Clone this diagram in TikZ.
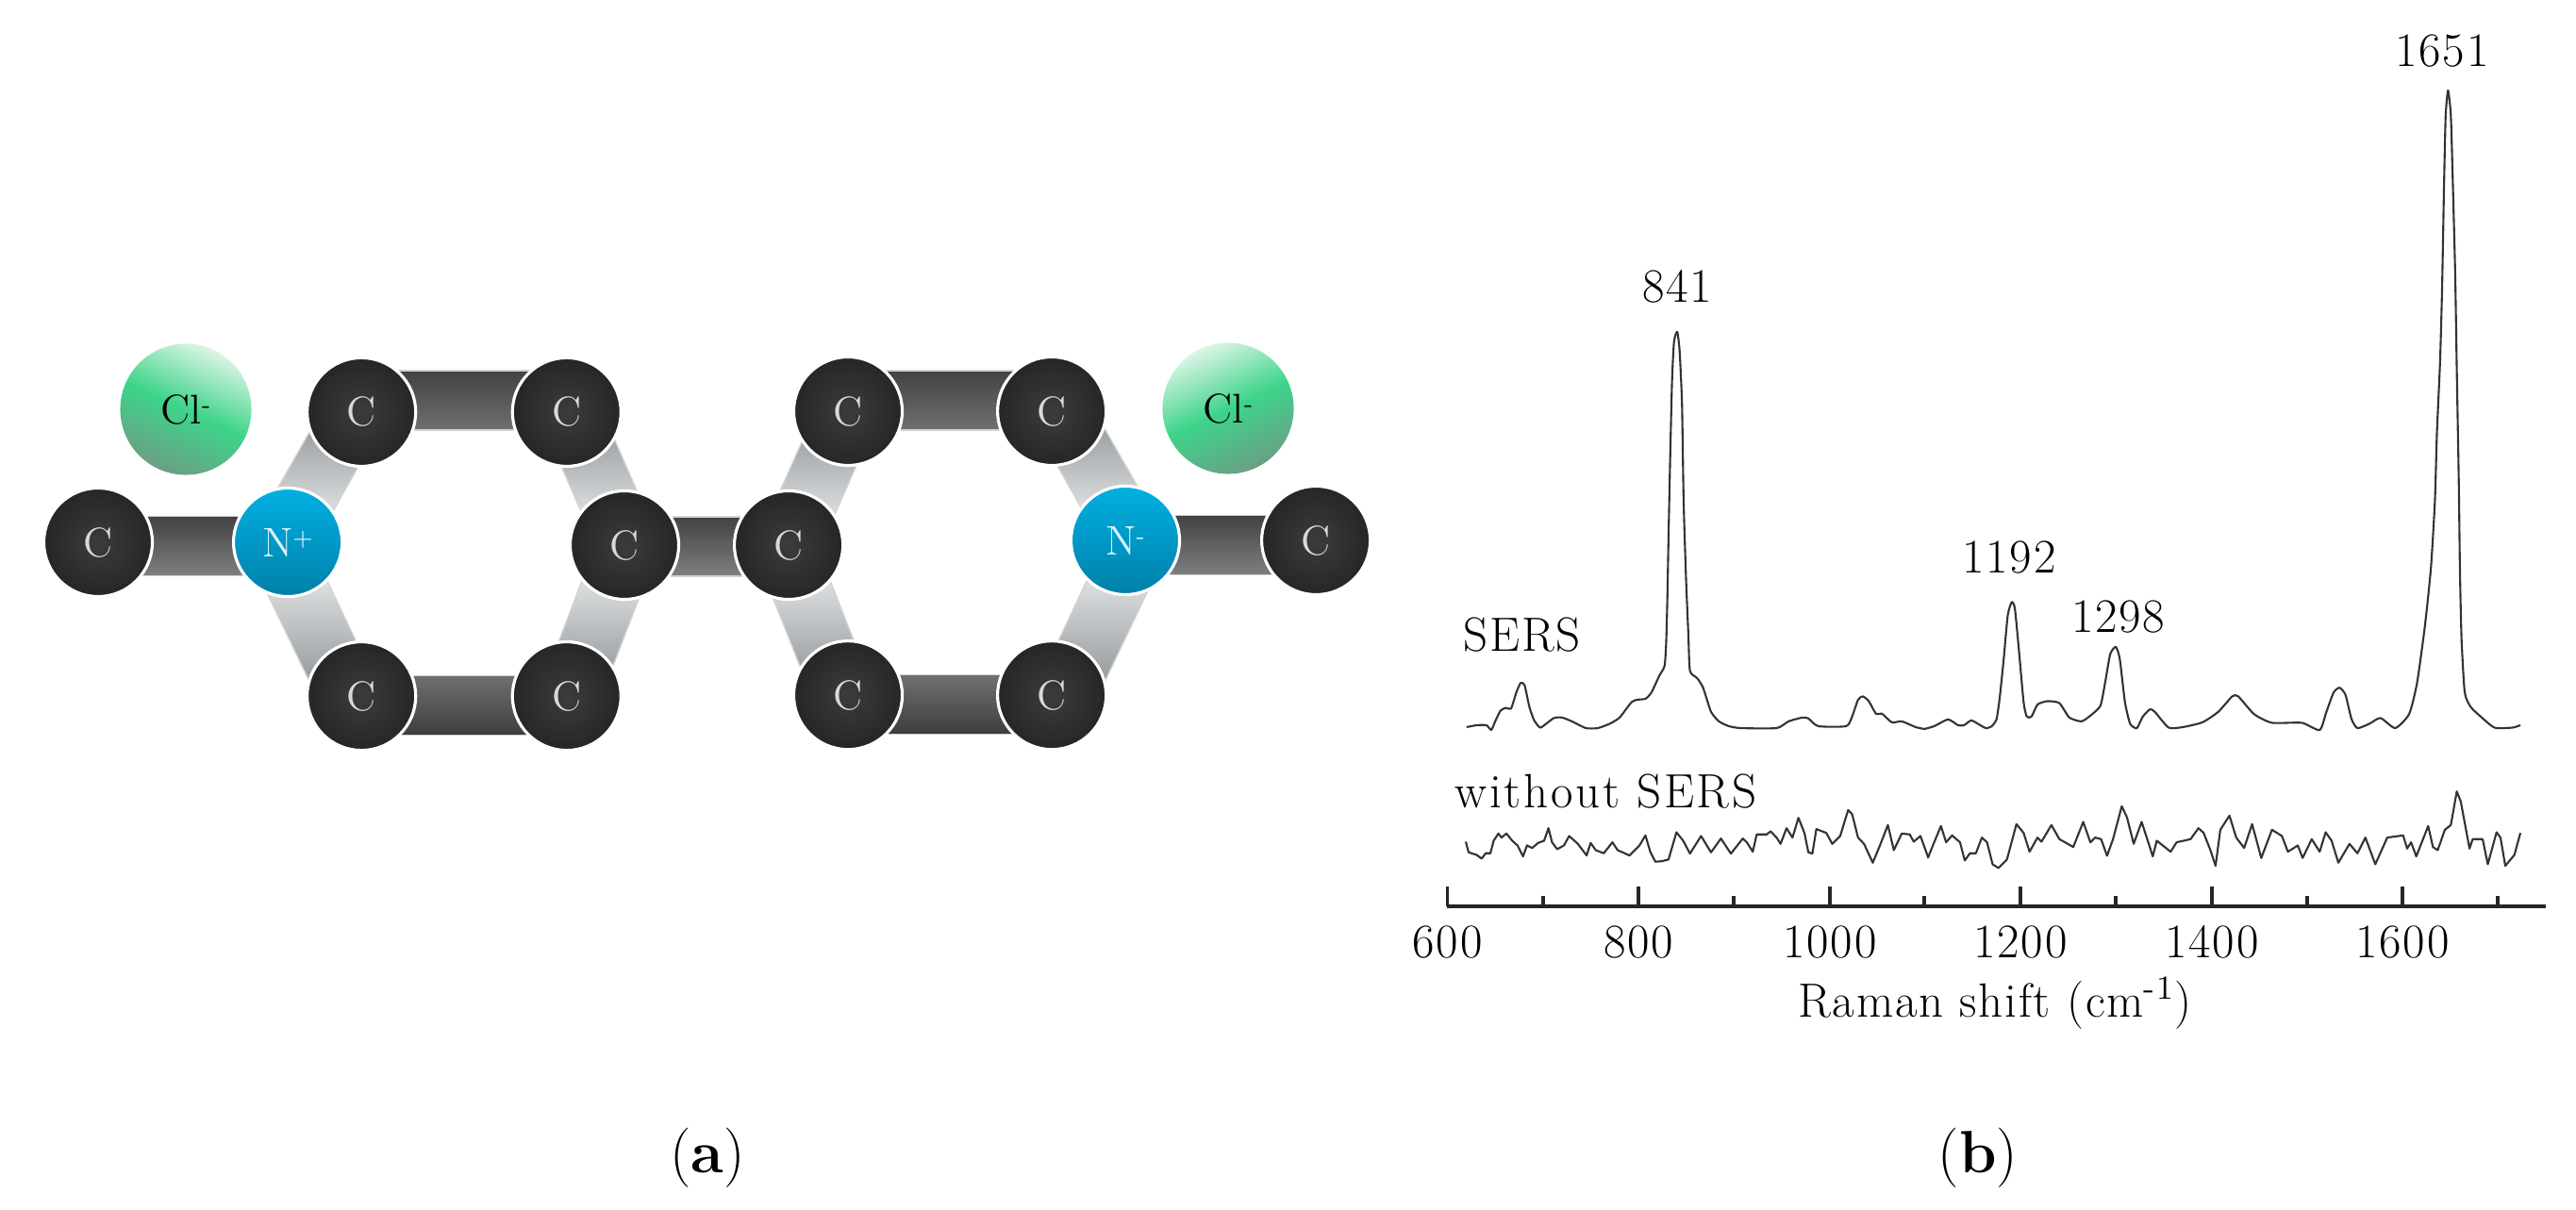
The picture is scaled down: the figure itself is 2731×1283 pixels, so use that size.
\documentclass[tikz,border=0pt]{standalone}
\usepackage{fontspec}
\setmainfont{Latin Modern Roman}
\usepackage{tikz}
\usetikzlibrary{positioning,calc,backgrounds}

\definecolor{atomdark}{HTML}{3C3C3C}
\definecolor{atomrim}{HTML}{262626}
\definecolor{traceink}{HTML}{333333}
\definecolor{ntop}{HTML}{00B0E2}
\definecolor{nbot}{HTML}{0080A8}
\definecolor{cltop}{HTML}{DDF5E6}
\definecolor{clmid}{HTML}{3ED48A}
\definecolor{clbot}{HTML}{6A9F84}
\definecolor{paleend}{HTML}{7E8589}

% one flat bond bar between two atoms, #4 moves it sideways
\newcommand{\bondbar}[4][]{
  \path[bond,#1] ($(#2.center)!#4+0.315cm!90:(#3.center)$) -- ($(#3.center)!#4+0.315cm!-90:(#2.center)$)
    -- ($(#3.center)!#4-0.315cm!-90:(#2.center)$) -- ($(#2.center)!#4-0.315cm!90:(#3.center)$) -- cycle;
}
\newcommand{\chargemark}[1]{\raisebox{0.6ex}{\fontsize{7}{8}\selectfont #1}}

\begin{document}
\begin{tikzpicture}[x=0.01cm,y=-0.01cm,on grid,auto]
\tikzset{
  bond/.style={draw=gray!35,line width=0.4pt},
  darkdown/.style={top color=black!74,bottom color=black!56},
  darkup/.style={top color=black!56,bottom color=black!76},
  darkside/.style={top color=black!74,bottom color=black!50},
  palefade/.style={top color=paleend,bottom color=white},
  palerise/.style={top color=white,bottom color=paleend},
  atom/.style={circle,draw=white,line width=0.9pt,minimum size=1.15cm,inner sep=0pt,
    font=\fontsize{12.5}{15}\selectfont},
  carbon/.style={atom,inner color=atomdark,outer color=atomrim,text=white!85!black},
  nitrogen/.style={atom,top color=ntop,bottom color=nbot,text=white!85!cyan},
  chloride/.style={circle,minimum size=1.39cm,inner sep=0pt,font=\fontsize{12.5}{15}\selectfont,
    shading=axis,top color=cltop,bottom color=clbot,middle color=clmid},
  tag/.style={font=\fontsize{14.5}{17}\selectfont\addfontfeature{LetterSpace=3.5},inner sep=0pt,anchor=base},
  panel/.style={font=\fontsize{18}{22}\selectfont,inner sep=0pt,anchor=base},
  trace/.style={draw=traceink,line width=0.6pt,line join=round},
  axisline/.style={draw=black!85,line width=1.15pt},
  tickline/.style={draw=black!85,line width=0.95pt}
}
\useasboundingbox (0,0) rectangle (2731,1283);

% left ring
\node[carbon] (c1) at (104,575) {C};
\node[nitrogen] (n1) [right=2.01cm of c1] {N\chargemark{+}};
\node[carbon] (tl1) [above right=1.38cm and 0.78cm of n1] {C};
\node[carbon] (tr1) [right=2.175cm of tl1] {C};
\node[carbon] (bl1) [below=3.01cm of tl1] {C};
\node[carbon] (br1) [right=2.175cm of bl1] {C};
\node[carbon] (m1) at (662,578) {C};
% right ring
\node[carbon] (m2) [right=1.74cm of m1] {C};
\node[carbon] (tl2) at (899,436) {C};
\node[carbon] (tr2) [right=2.16cm of tl2] {C};
\node[carbon] (bl2) [below=3.01cm of tl2] {C};
\node[carbon] (br2) [right=2.16cm of bl2] {C};
\node[nitrogen] (n2) at (1193,573) {N\chargemark{-}};
\node[carbon] (c2) [right=2.02cm of n2] {C};
\node[chloride,shading angle=-25] (cl1) at (197,434) {Cl\chargemark{-}};
\node[chloride,shading angle=25] (cl2) at (1302,433) {Cl\chargemark{-}};

\begin{scope}[on background layer]
  \bondbar[darkdown]{tl1}{tr1}{0.125cm}
  \bondbar[darkup]{bl1}{br1}{-0.10cm}
  \bondbar[darkside]{c1}{n1}{-0.04cm}
  \bondbar[darkside]{m1}{m2}{-0.015cm}
  \bondbar[darkdown]{tl2}{tr2}{0.115cm}
  \bondbar[darkup]{bl2}{br2}{-0.10cm}
  \bondbar[darkside]{n2}{c2}{-0.05cm}
  \bondbar[palefade]{n1}{tl1}{0.06cm}
  \bondbar[palerise]{n1}{bl1}{-0.115cm}
  \bondbar[palefade]{tr1}{m1}{0.035cm}
  \bondbar[palerise]{m1}{br1}{0.03cm}
  \bondbar[palefade]{m2}{tl2}{0cm}
  \bondbar[palerise]{m2}{bl2}{-0.045cm}
  \bondbar[palefade]{tr2}{n2}{0.08cm}
  \bondbar[palerise]{n2}{br2}{0.13cm}
\end{scope}

% SERS trace
\begin{scope}[shift={(1420,0)},x=0.0042088cm,y=-0.0051020cm]
  \draw[trace] plot[smooth,tension=0.35] coordinates {(320,1512) (345,1508) (370,1508) (382,1518) (392,1500) (405,1478) (418,1472) (432,1473) (445,1440) (456,1420) (466,1425) (478,1470) (490,1498) (505,1513) (520,1505) (540,1493) (560,1492) (585,1500) (620,1514) (650,1514) (680,1505) (705,1492) (735,1460) (750,1455) (770,1453) (785,1440) (805,1405) (818,1385) (822,1340) (825,1250) (828,1120) (832,960) (837,790) (842,710) (850,690) (856,730) (862,840) (866,1040) (872,1200) (878,1320) (882,1395) (900,1410) (915,1430) (935,1480) (955,1500) (980,1510) (1010,1514) (1100,1514) (1130,1500) (1165,1492) (1180,1494) (1205,1510) (1275,1510) (1290,1490) (1305,1455) (1317,1448) (1332,1458) (1350,1484) (1365,1484) (1390,1502) (1415,1500) (1450,1512) (1473,1516)};
\end{scope}
\begin{scope}[shift={(2040,0)},x=0.0042088cm,y=-0.0051020cm]
  \draw[trace] plot[smooth,tension=0.35] coordinates {(0,1516) (25,1510) (60,1496) (85,1508) (100,1508) (118,1498) (135,1505) (155,1514) (170,1510) (182,1495) (190,1450) (200,1370) (210,1280) (220,1252) (228,1265) (238,1350) (250,1460) (258,1490) (270,1490) (285,1465) (310,1458) (340,1462) (365,1492) (395,1500) (415,1490) (443,1468) (455,1420) (468,1360) (482,1345) (492,1370) (505,1460) (518,1505) (535,1514) (550,1490) (568,1475) (580,1480) (615,1513) (650,1512) (700,1502) (740,1480) (775,1448) (790,1448) (830,1485) (875,1503) (950,1503) (995,1518) (1012,1480) (1030,1440) (1045,1430) (1060,1445) (1075,1495) (1090,1514) (1120,1505) (1148,1493) (1185,1514) (1220,1485) (1240,1420) (1260,1300) (1275,1180) (1285,1040) (1290,900) (1298,750) (1303,600) (1308,380) (1312,240) (1318,188) (1325,240) (1330,380) (1336,570) (1340,770) (1345,1000) (1348,1190) (1352,1330) (1360,1440) (1375,1470) (1400,1490) (1435,1513) (1480,1513) (1500,1508)};
\end{scope}
% trace without SERS
\begin{scope}[shift={(1420,760)},x=0.0042088cm,y=-0.0033333cm]
  \draw[trace] (318,398) -- (325,432) -- (345,440) -- (358,452) -- (368,435) -- (380,435) -- (388,395) -- (400,372) -- (408,385) -- (420,372) -- (435,395) -- (448,410) -- (462,445) -- (472,410) -- (485,418) -- (500,402) -- (515,395) -- (526,355) -- (535,400) -- (548,422) -- (565,410) -- (578,380) -- (600,405) -- (622,442) -- (632,402) -- (645,425) -- (665,435) -- (687,400) -- (700,425) -- (730,442) -- (755,410) -- (770,378) -- (782,430) -- (795,462) -- (812,460) -- (828,455) -- (848,368) -- (865,395) -- (882,436) -- (910,380) -- (935,432) -- (960,388) -- (985,436) -- (1015,388) -- (1025,400) -- (1040,430) -- (1050,375) -- (1075,375) -- (1085,365) -- (1100,385) -- (1110,405) -- (1125,355) -- (1140,385) -- (1155,322) -- (1170,370) -- (1180,432) -- (1190,436) -- (1200,358) -- (1225,370) -- (1240,405) -- (1260,380) -- (1280,297) -- (1290,310) -- (1305,385) -- (1320,405) -- (1342,465) -- (1360,410) -- (1380,345) -- (1395,425) -- (1415,372) -- (1435,375) -- (1445,398) -- (1462,380) -- (1482,450);
\end{scope}
\begin{scope}[shift={(2040,760)},x=0.0042088cm,y=-0.0033333cm]
  \draw[trace] (9,450) -- (25,400) -- (42,348) -- (55,400) -- (70,378) -- (90,400) -- (102,458) -- (115,435) -- (130,435) -- (145,385) -- (158,400) -- (172,470) -- (187,482) -- (208,455) -- (232,342) -- (250,370) -- (265,430) -- (285,385) -- (295,398) -- (320,345) -- (340,390) -- (375,415) -- (400,335) -- (418,400) -- (430,385) -- (445,390) -- (460,443) -- (475,390) -- (497,285) -- (510,320) -- (527,405) -- (547,335) -- (565,405) -- (575,445) -- (585,395) -- (620,430) -- (635,400) -- (670,390) -- (690,355) -- (703,370) -- (720,425) -- (733,475) -- (745,360) -- (768,315) -- (785,385) -- (805,418) -- (825,342) -- (848,450) -- (875,360) -- (900,380) -- (915,430) -- (940,410) -- (952,450) -- (975,390) -- (995,430) -- (1010,368) -- (1025,395) -- (1042,465) -- (1070,405) -- (1090,435) -- (1110,385) -- (1135,470) -- (1165,385) -- (1205,378) -- (1215,420) -- (1225,400) -- (1238,445) -- (1268,348) -- (1280,415) -- (1292,425) -- (1310,360) -- (1325,345) -- (1340,238) -- (1350,270) -- (1372,420) -- (1380,390) -- (1405,390) -- (1418,470) -- (1440,368) -- (1450,385) -- (1462,475) -- (1485,440) -- (1500,370);
\end{scope}

% axis
\draw[axisline] (1534,960.7) -- (2699,960.7);
\foreach \xpos/\tlabel in {1534.5/600,1737/800,1940/1000,2142/1200,2345/1400,2547/1600}
  \draw[tickline] (\xpos,961) -- (\xpos,940) (\xpos,1015) node[tag] {\tlabel};
\foreach \xpos in {1636,1838,2040,2243,2446,2648}
  \draw[tickline] (\xpos,961) -- (\xpos,950);
\node[tag] (xlabel) at (2115,1078) {Raman shift (cm\textsuperscript{-1})};

\node[tag] (p841) at (1778,321) {841};
\node[tag] (p1192) at (2130,608) {1192};
\node[tag] (p1298) at (2245.5,671) {1298};
\node[tag] (p1651) at (2589,71) {1651};
\node[tag] (sers) at (1613.6,691) {SERS};
\node[tag,anchor=base west] (nosers) at (1542,856.7) {\addfontfeature{LetterSpace=5.3}without SERS};

\node[panel] (a) at (750,1243) {(\textbf{a})};
\node[panel] (b) at (2097,1243) {(\textbf{b})};
\end{tikzpicture}
\end{document}
